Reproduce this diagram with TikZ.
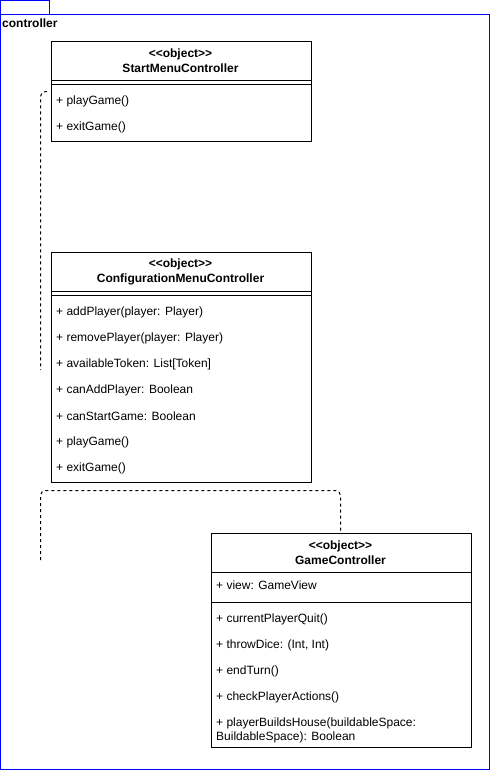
\documentclass[tikz,border=0pt]{standalone}
\usepackage{fontspec}
\setmainfont{Liberation Sans}
\newcommand{\stereo}[1]{<\kern0pt<#1>\kern0pt>}
\begin{document}
\begin{tikzpicture}[x=1pt,y=-1pt,
  every node/.style={font=\fontsize{12}{14}\selectfont, inner sep=0pt},
  frameline/.style={draw=blue, line width=1pt},
  boxline/.style={draw=black, line width=1pt},
  member/.style={anchor=west, align=left},
  head/.style={anchor=center, align=center, font=\fontsize{12}{15}\selectfont\bfseries},
  conn/.style={draw=black, line width=1pt, dash pattern=on 3pt off 3pt, rounded corners=5pt}]
\useasboundingbox (0,0) rectangle (491,771);
% package frame
\draw[frameline] (0.5,0.5) rectangle (49.5,14.5);
\draw[frameline] (0.5,14.5) rectangle (489.5,769.5);
\node[anchor=west, font=\fontsize{12}{14}\selectfont\bfseries] (pkg) at (2,23) {controller};

% StartMenuController
\node[boxline, anchor=north west, minimum width=260pt, minimum height=100pt] (start) at (50.5,40.5) {};
\draw[boxline] (50.5,80.5) -- (310.5,80.5);
\draw[boxline] (50.5,84.5) -- (310.5,84.5);
\node[head] (startT) at (180.5,61) {\stereo{object}\\StartMenuController};
\node[member] (s1) at (56,101.5) {+ playGame()};
\node[member] (s2) at (56,127.5) {+ exitGame()};

% ConfigurationMenuController
\node[boxline, anchor=north west, minimum width=260pt, minimum height=230pt] (config) at (50.5,251.5) {};
\draw[boxline] (50.5,291.5) -- (310.5,291.5);
\draw[boxline] (50.5,295.5) -- (310.5,295.5);
\node[head] (configT) at (180.5,272) {\stereo{object}\\ConfigurationMenuController};
\node[member] (c1) at (56,312.5) {+ addPlayer(player: Player)};
\node[member] (c2) at (56,338.5) {+ removePlayer(player: Player)};
\node[member] (c3) at (56,364.5) {+ availableToken: List[Token]};
\node[member] (c4) at (56,390.5) {+ canAddPlayer: Boolean};
\node[member] (c5) at (56,416.5) {+ canStartGame: Boolean};
\node[member] (c6) at (56,442.5) {+ playGame()};
\node[member] (c7) at (56,468.5) {+ exitGame()};

% GameController
\node[boxline, anchor=north west, minimum width=260pt, minimum height=214pt] (game) at (210.5,532.5) {};
\draw[boxline] (210.5,572.5) -- (470.5,572.5);
\draw[boxline] (210.5,602.5) -- (470.5,602.5);
\node[head] (gameT) at (340.5,553) {\stereo{object}\\GameController};
\node[member] (g0) at (216,585.5) {+ view: GameView};
\node[member] (g1) at (216,619.5) {+ currentPlayerQuit()};
\node[member] (g2) at (216,645.5) {+ throwDice: (Int, Int)};
\node[member] (g3) at (216,671.5) {+ endTurn()};
\node[member] (g4) at (216,697.5) {+ checkPlayerActions()};
\node[member] (g5) at (216,730) {+ playerBuildsHouse(buildableSpace:\\BuildableSpace): Boolean};

% partial dashed connectors
\coordinate (d1a) at (47,91.5);
\coordinate (d1b) at (40.5,91.5);
\coordinate (d1c) at (40.5,370);
\draw[conn] (d1a) -- (d1b) -- (d1c);
\coordinate (d2a) at (40.5,560);
\coordinate (d2b) at (40.5,490.5);
\coordinate (d2c) at (340.5,490.5);
\draw[conn] (d2a) -- (d2b) -- (d2c) -- (game.north -| d2c);
\end{tikzpicture}
\end{document}
